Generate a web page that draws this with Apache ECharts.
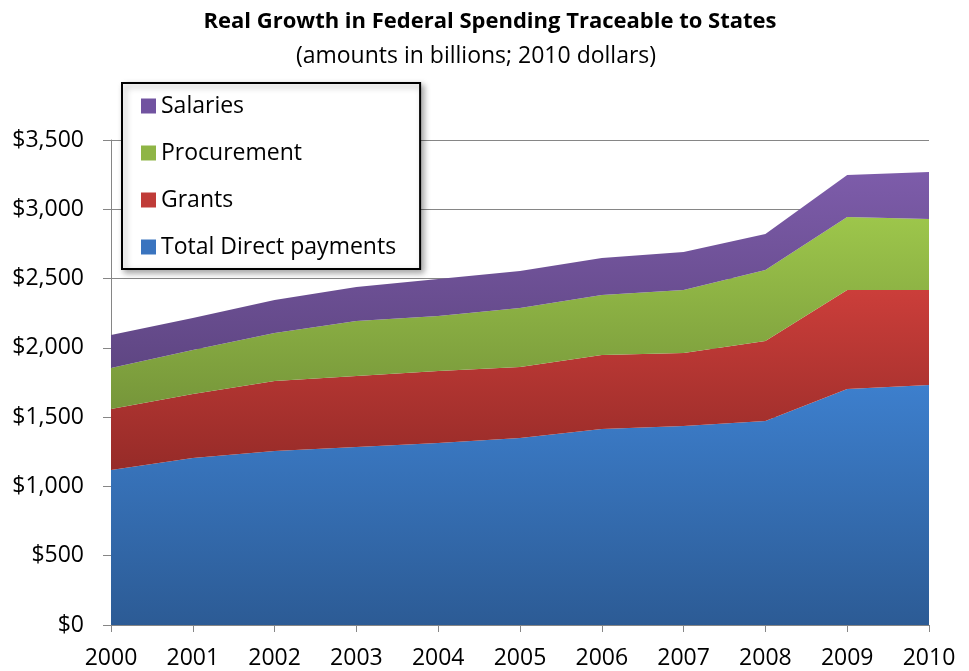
<!DOCTYPE html>
<html>
<head>
<meta charset="utf-8">
<script src="https://cdn.jsdelivr.net/npm/echarts@6/dist/echarts.min.js"></script>
<style>
html,body{margin:0;padding:0;background:#fff;}
#chart{width:969px;height:671px;}
</style>
</head>
<body>
<div id="chart"></div>
<script>
const years = ['2000','2001','2002','2003','2004','2005','2006','2007','2008','2009','2010'];
const directPayments = [1119,1205,1256,1285,1313,1350,1414,1436,1472,1703,1732];
const grants = [440,462,505,512,520,512,534,527,578,715,686];
const procurement = [296,318,346,397,397,426,433,455,512,526,512];
const salaries = [238,230,238,245,267,267,267,274,260,303,339];
const yTicks = [0,500,1000,1500,2000,2500,3000,3500];

const FONT = '"Open Sans"';
function grad(top, bottom){
  return new echarts.graphic.LinearGradient(0,0,0,1,[{offset:0,color:top},{offset:1,color:bottom}]);
}
function mk(name, data, solid, top, bottom){
  return {
    name: name, type:'line', stack:'total', data:data,
    showSymbol:false, symbol:'none',
    lineStyle:{width:0},
    itemStyle:{color:solid},
    areaStyle:{color:grad(top,bottom), opacity:1},
    emphasis:{disabled:true},
    z:2
  };
}
const chart = echarts.init(document.getElementById('chart'));
chart.setOption({
  animation:false,
  backgroundColor:'#fff',
  title:[
    {text:'Real Growth in Federal Spending Traceable to States', left:485, top:6, textAlign:'center',
     textStyle:{fontFamily:FONT, fontWeight:'bold', fontSize:22, color:'#000'}},
    {text:'(amounts in billions; 2010 dollars)', left:471, top:40, textAlign:'center',
     textStyle:{fontFamily:FONT, fontWeight:'normal', fontSize:23, color:'#000'}}
  ],
  legend:{
    orient:'vertical', left:122, top:83,
    data:['Salaries','Procurement','Grants','Total Direct payments'],
    icon:'rect', itemWidth:15, itemHeight:15, itemGap:23,
    padding:[11,24,10,19],
    backgroundColor:'#fff', borderColor:'#000', borderWidth:2,
    shadowColor:'rgba(0,0,0,0.35)', shadowBlur:6, shadowOffsetX:3, shadowOffsetY:3,
    textStyle:{fontFamily:FONT, fontSize:23, color:'#000', lineHeight:24},
    selectedMode:false
  },
  grid:{left:111, right:40, top:140, bottom:46, containLabel:false},
  xAxis:{
    type:'category', data:years, boundaryGap:false,
    axisLine:{lineStyle:{color:'#868686', width:1}},
    axisTick:{show:true, alignWithLabel:true, length:7, lineStyle:{color:'#868686'}},
    axisLabel:{fontFamily:FONT, fontSize:23, color:'#000', margin:22},
    splitLine:{show:false}
  },
  yAxis:{
    type:'value', min:0, max:3500, interval:500,
    axisLine:{show:true, lineStyle:{color:'#868686', width:1}},
    axisTick:{show:true, length:8, lineStyle:{color:'#868686'}},
    axisLabel:{fontFamily:FONT, fontSize:23, color:'#000', margin:27,
      formatter:function(v){return '$'+v.toLocaleString('en-US');}},
    splitLine:{show:true, lineStyle:{color:'#868686', width:1}}
  },
  series:[
    mk('Total Direct payments', directPayments, '#3a74bf', '#3d7fcd', '#2c5b95'),
    mk('Grants', grants, '#c03c38', '#cb3e3a', '#962b28'),
    mk('Procurement', procurement, '#8fb546', '#9dc64b', '#76963a'),
    mk('Salaries', salaries, '#7153a0', '#7d5caa', '#5f4683')
  ]
});
</script>
</body>
</html>
